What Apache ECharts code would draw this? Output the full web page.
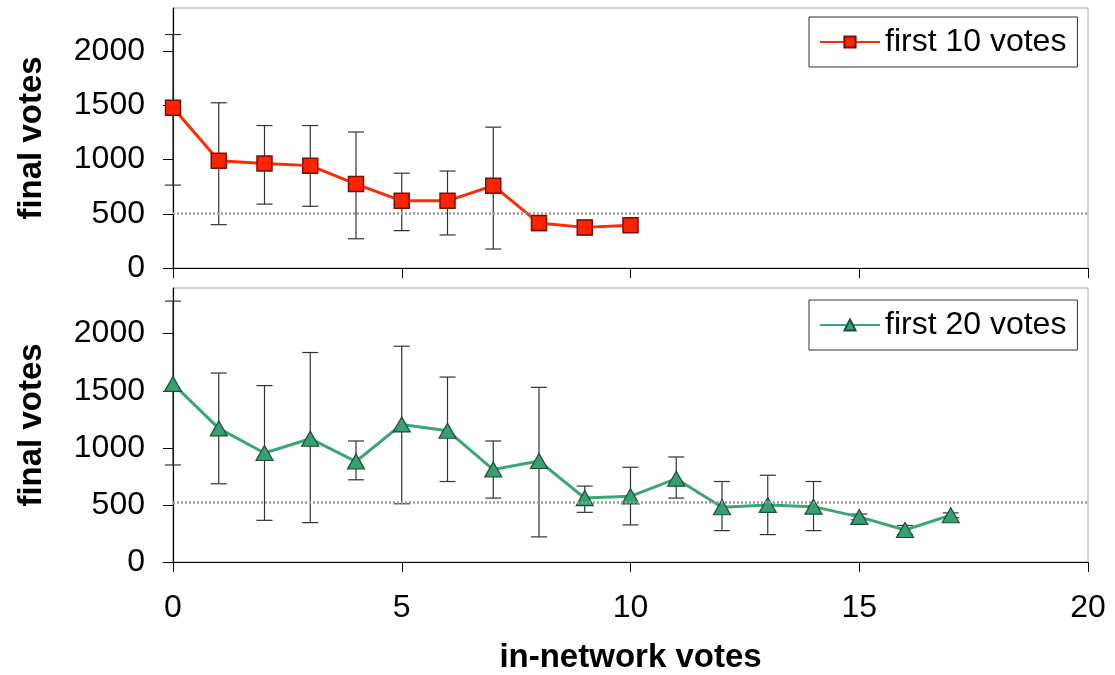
<!DOCTYPE html>
<html>
<head>
<meta charset="utf-8">
<script src="https://cdn.jsdelivr.net/npm/echarts@6/dist/echarts.min.js"></script>
<style>
  html, body { margin: 0; padding: 0; background: #fff; }
  #chart { width: 1115px; height: 675px; }
</style>
</head>
<body>
<div id="chart"></div>
<script>
// first 10 votes (top panel)
const x10 = [0, 1, 2, 3, 4, 5, 6, 7, 8, 9, 10]
const mean10 = [1480, 990, 965, 945, 775, 620, 620, 760, 415, 375, 395]
const low10 = [765, 400, 590, 570, 270, 345, 305, 175, 345, 305, 360]
const high10 = [2155, 1525, 1315, 1315, 1255, 875, 895, 1300, 445, 440, 430]
const ref10 = 505

// first 20 votes (bottom panel)
const x20 = [0, 1, 2, 3, 4, 5, 6, 7, 8, 9, 10, 11, 12, 13, 14, 15, 16, 17]
const mean20 = [1560, 1170, 955, 1080, 880, 1205, 1150, 810, 885, 560, 575, 730, 480, 500, 485, 395, 280, 410]
const low20 = [850, 685, 365, 345, 720, 510, 705, 560, 220, 435, 325, 560, 275, 240, 275, 370, 240, 390]
const high20 = [2285, 1655, 1545, 1835, 1060, 1890, 1620, 1060, 1530, 665, 830, 920, 705, 760, 705, 420, 320, 430]
const ref20 = 525

const yTicks = [0, 500, 1000, 1500, 2000]

const FONT = 'Liberation Sans, Arial, sans-serif'

function errRender (params, api) {
  const x = api.value(0)
  const pLo = api.coord([x, api.value(1)])
  const pHi = api.coord([x, api.value(2)])
  const w = 8
  const st = { stroke: '#333', lineWidth: 1.2 }
  return {
    type: 'group',
    children: [
      { type: 'line', shape: { x1: pLo[0], y1: pLo[1], x2: pHi[0], y2: pHi[1] }, style: st },
      { type: 'line', shape: { x1: pLo[0] - w, y1: pLo[1], x2: pLo[0] + w, y2: pLo[1] }, style: st },
      { type: 'line', shape: { x1: pHi[0] - w, y1: pHi[1], x2: pHi[0] + w, y2: pHi[1] }, style: st }
    ]
  }
}

function xAxis (idx, showLabel) {
  return {
    type: 'value',
    gridIndex: idx,
    min: 0,
    max: 20,
    interval: 5,
    axisLine: { lineStyle: { color: '#000', width: 1.2 } },
    axisTick: { show: true, length: 10, lineStyle: { color: '#000' } },
    splitLine: { show: false },
    axisLabel: { show: showLabel, fontSize: 32, color: '#000', fontFamily: FONT, margin: 30 },
    name: showLabel ? 'in-network votes' : '',
    nameLocation: 'middle',
    nameGap: 79,
    nameTextStyle: { fontSize: 33, fontWeight: 'bold', color: '#000', fontFamily: FONT }
  }
}

function yAxis (idx) {
  return {
    type: 'value',
    gridIndex: idx,
    min: 0,
    max: 2400,
    interval: 500,
    axisLine: { show: true, lineStyle: { color: '#000', width: 1.2 } },
    axisTick: { show: true, length: 10, lineStyle: { color: '#000' }, customValues: yTicks },
    splitLine: { show: false },
    axisLabel: {
      fontSize: 32, color: '#000', fontFamily: FONT, margin: 28,
      customValues: yTicks,
      formatter: v => (v > 2000 ? '' : String(v))
    },
    name: 'final votes',
    nameLocation: 'middle',
    nameGap: 125,
    nameTextStyle: { fontSize: 33, fontWeight: 'bold', color: '#000', fontFamily: FONT }
  }
}

function legend (top, name) {
  return {
    left: 809,
    top: top,
    data: [name],
    orient: 'horizontal',
    backgroundColor: '#fff',
    borderColor: '#333',
    borderWidth: 1,
    borderRadius: 0,
    padding: [9, 11, 9, 10],
    itemWidth: 60,
    itemHeight: 14,
    textStyle: { fontSize: 32, color: '#000', fontFamily: FONT }
  }
}

const refLine = (v) => ({
  silent: true,
  symbol: 'none',
  label: { show: false },
  lineStyle: { type: [2, 2], color: '#9a9a9a', width: 2.5 },
  data: [{ yAxis: v }]
})

const chart = echarts.init(document.getElementById('chart'))
chart.setOption({
  animation: false,
  backgroundColor: '#fff',
  grid: [
    { left: 173, right: 27, top: 8, height: 260, show: true, borderColor: '#a8a8a8', borderWidth: 1 },
    { left: 173, right: 27, top: 288, height: 275, show: true, borderColor: '#a8a8a8', borderWidth: 1 }
  ],
  legend: [legend(17, 'first 10 votes'), legend(300, 'first 20 votes')],
  xAxis: [xAxis(0, false), xAxis(1, true)],
  yAxis: [yAxis(0), yAxis(1)],
  series: [
    {
      name: 'err10',
      type: 'custom',
      xAxisIndex: 0,
      yAxisIndex: 0,
      z: 1,
      renderItem: errRender,
      data: x10.map((x, i) => [x, low10[i], high10[i]]),
      markLine: refLine(ref10)
    },
    {
      name: 'first 10 votes',
      type: 'line',
      xAxisIndex: 0,
      yAxisIndex: 0,
      z: 3,
      symbol: 'rect',
      symbolSize: 15,
      showAllSymbol: true,
      lineStyle: { color: '#ff2a00', width: 3 },
      itemStyle: { color: '#ff2200', borderColor: '#7a1000', borderWidth: 1.5 },
      data: x10.map((x, i) => [x, mean10[i]])
    },
    {
      name: 'err20',
      type: 'custom',
      xAxisIndex: 1,
      yAxisIndex: 1,
      z: 1,
      renderItem: errRender,
      data: x20.map((x, i) => [x, low20[i], high20[i]]),
      markLine: refLine(ref20)
    },
    {
      name: 'first 20 votes',
      type: 'line',
      xAxisIndex: 1,
      yAxisIndex: 1,
      z: 3,
      symbol: 'triangle',
      symbolSize: [17, 15],
      showAllSymbol: true,
      lineStyle: { color: '#3aa676', width: 3 },
      itemStyle: { color: '#38a070', borderColor: '#1d4f38', borderWidth: 1.2 },
      data: x20.map((x, i) => [x, mean20[i]])
    }
  ]
})
</script>
</body>
</html>
